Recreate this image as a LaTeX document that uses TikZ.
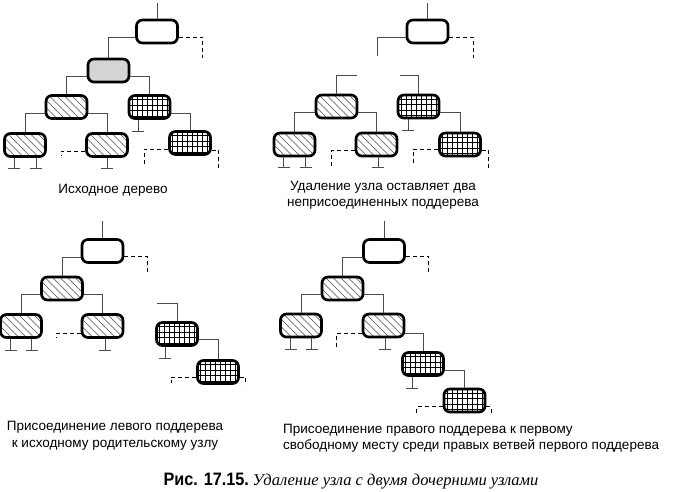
\documentclass[tikz,border=0pt]{standalone}
\usepackage{fontspec}
\setmainfont{Liberation Sans}
\newfontfamily\capserif{Liberation Serif}
\newfontfamily\capsans[FakeStretch=0.9]{Liberation Sans}
\usetikzlibrary{arrows.meta,calc}
\tikzset{
 tn/.style={draw=black, line width=2.7pt, rounded corners=6pt, minimum width=41pt, minimum height=23pt, inner sep=0pt, fill=white},
 plain/.style={tn},
 grayn/.style={tn, fill=black!17},
 hatch/.style={tn, path picture={\foreach \i in {-27,-19.5,...,45} \draw[line width=0.65pt, black!70] ([xshift=\i pt]path picture bounding box.north west) -- ++(30pt,-30pt);}},
 grid/.style={tn, path picture={\foreach \i in {3,8,...,43} \draw[line width=0.7pt] ([xshift=\i pt]path picture bounding box.north west) -- ++(0pt,-30pt); \foreach \j in {4,9.5,...,22} \draw[line width=0.7pt] ([yshift=-\j pt]path picture bounding box.north west) -- ++(50pt,0pt);}},
 conn/.style={draw=black!70, line width=0.9pt},
 dconn/.style={draw=black, line width=0.9pt, dash pattern=on 4pt off 3pt},
 nul/.style={conn, -{Bar[width=12pt]}},
 lbl/.style={font=\fontsize{13.5}{16.5}\selectfont, inner sep=0pt, align=center},
}
\begin{document}
\begin{tikzpicture}[x=1pt,y=-1pt]
\useasboundingbox (0,0) rectangle (681,492);
% ---------- Panel 1 ----------
\node[plain] (r1) at (157,31.5) {};
\node[grayn] (g1) at (108.5,70.5) {};
\node[hatch] (a1) at (66.5,107) {};
\node[grid] (b1) at (149.5,107) {};
\node[hatch] (a1l) at (25,145) {};
\node[hatch] (a1r) at (107,145) {};
\node[grid] (b1r) at (190,143) {};
\draw[conn] (r1.north) -- ++(0pt,16pt);
\draw[dconn] ([yshift=-6pt]r1.east) -- ++(24pt,0pt) -- ++(0pt,-21pt);
\draw[conn] ([yshift=-6pt]r1.west) -| (g1.north);
\draw[conn] ([yshift=-6pt]g1.west) -| (a1.north);
\draw[conn] ([yshift=-6pt]g1.east) -| (b1.north);
\draw[conn] ([yshift=-6pt]a1.west) -| (a1l.north);
\draw[conn] ([yshift=-6pt]a1.east) -| (a1r.north);
\draw[nul] ([xshift=-11.5pt]b1.south) -- ++(0pt,-12pt);
\draw[conn] ([yshift=-6pt]b1.east) -| (b1r.north);
\draw[dconn] ([yshift=-6pt]b1r.west) -- ++(-24pt,0pt) -- ++(0pt,-16pt);
\draw[dconn] ([yshift=-7pt]b1r.east) -- ++(7pt,0pt) -- ++(0pt,-20pt);
\draw[nul] ([xshift=-11pt]a1l.south) -- ++(0pt,-11pt);
\draw[nul] ([xshift=11pt]a1l.south) -- ++(0pt,-11pt);
\draw[dconn] ([yshift=-6pt]a1r.west) -- ++(-24pt,0pt) -- ++(0pt,-5pt);
\draw[nul] (a1r.south) -- ++(0pt,-11pt);
\node[lbl] (t1) at (113,190) {Исходное дерево};
% ---------- Panel 2 ----------
\node[plain] (r2) at (427.5,31.5) {};
\node[hatch] (a2) at (336.5,106.5) {};
\node[grid] (b2) at (418.5,106.5) {};
\node[hatch] (a2l) at (294.5,144.5) {};
\node[hatch] (a2r) at (376.5,144.5) {};
\node[grid] (b2r) at (460,144.5) {};
\draw[conn] (r2.north) -- ++(0pt,16pt);
\draw[dconn] ([yshift=-6pt]r2.east) -- ++(24pt,0pt) -- ++(0pt,-21pt);
\draw[conn] ([yshift=-6pt]r2.west) -- ++(-28pt,0pt) -- ++(0pt,-19pt);
\draw[conn] (a2.north) -- ++(0pt,18pt) -- ++(20pt,0pt);
\draw[conn] (b2.north) -- ++(0pt,18pt) -- ++(-19pt,0pt);
\draw[conn] ([yshift=-6pt]a2.west) -| (a2l.north);
\draw[conn] ([yshift=-6pt]a2.east) -| (a2r.north);
\draw[nul] ([xshift=-11pt]a2l.south) -- ++(0pt,-11pt);
\draw[nul] ([xshift=11pt]a2l.south) -- ++(0pt,-11pt);
\draw[dconn] ([yshift=-6pt]a2r.west) -- ++(-23pt,0pt) -- ++(0pt,-16pt);
\draw[nul] ([xshift=1.5pt]a2r.south) -- ++(0pt,-11pt);
\draw[nul] ([xshift=-10.5pt]b2.south) -- ++(0pt,-12pt);
\draw[conn] ([yshift=-6pt]b2.east) -| (b2r.north);
\draw[dconn] ([yshift=-5pt]b2r.west) -- ++(-25pt,0pt) -- ++(0pt,-16pt);
\draw[dconn] ([yshift=-6pt]b2r.east) -- ++(7pt,0pt) -- ++(0pt,-20pt);
\node[lbl] (t2) at (383,195.5) {Удаление узла оставляет два\\неприсоединенных поддерева};
% ---------- Panel 3 ----------
\node[plain] (r3) at (102.5,251) {};
\node[hatch] (a3) at (62,288.5) {};
\node[hatch] (a3l) at (21,326) {};
\node[hatch] (a3r) at (102.5,326) {};
\node[grid] (b3) at (177,334) {};
\node[grid] (b3r) at (218,372) {};
\draw[conn] (r3.north) -- ++(0pt,17pt);
\draw[dconn] ([yshift=-5pt]r3.east) -- ++(23pt,0pt) -- ++(0pt,-16pt);
\draw[conn] ([yshift=-6pt]r3.west) -| (a3.north);
\draw[conn] ([yshift=-6pt]a3.west) -| (a3l.north);
\draw[conn] ([yshift=-6pt]a3.east) -| (a3r.north);
\draw[nul] ([xshift=-10.5pt]a3l.south) -- ++(0pt,-12pt);
\draw[nul] ([xshift=10.5pt]a3l.south) -- ++(0pt,-12pt);
\draw[dconn] ([yshift=-7pt]a3r.west) -- ++(-24pt,0pt) -- ++(0pt,-5pt);
\draw[nul] ([xshift=2.5pt]a3r.south) -- ++(0pt,-12pt);
\draw[conn] (b3.north) -- ++(0pt,18pt) -- ++(-20pt,0pt);
\draw[nul] ([xshift=-12pt]b3.south) -- ++(0pt,-12pt);
\draw[conn] ([yshift=-5pt]b3.east) -| (b3r.north);
\draw[dconn] ([yshift=-5pt]b3r.west) -- ++(-25pt,0pt) -- ++(0pt,-6pt);
\draw[dconn] ([yshift=-5pt]b3r.east) -- ++(6pt,0pt) -- ++(0pt,-8pt);
\node[lbl] (t3) at (115,436) {Присоединение левого поддерева\\к исходному родительскому узлу};
% ---------- Panel 4 ----------
\node[plain] (r4) at (384,251) {};
\node[hatch] (a4) at (342.5,288.5) {};
\node[hatch] (a4l) at (301,325.5) {};
\node[hatch] (a4r) at (383.5,325.5) {};
\node[grid] (b4) at (423,364) {};
\node[grid] (b4r) at (464.5,400.5) {};
\draw[conn] (r4.north) -- ++(0pt,17pt);
\draw[dconn] ([yshift=-5pt]r4.east) -- ++(23pt,0pt) -- ++(0pt,-16pt);
\draw[conn] ([yshift=-6pt]r4.west) -| (a4.north);
\draw[conn] ([yshift=-6pt]a4.west) -| (a4l.north);
\draw[conn] ([yshift=-6pt]a4.east) -| (a4r.north);
\draw[nul] ([xshift=-10.5pt]a4l.south) -- ++(0pt,-12pt);
\draw[nul] ([xshift=10.5pt]a4l.south) -- ++(0pt,-12pt);
\draw[dconn] ([yshift=-7.5pt]a4r.west) -- ++(-25pt,0pt) -- ++(0pt,-15pt);
\draw[nul] ([xshift=1.5pt]a4r.south) -- ++(0pt,-12pt);
\draw[conn] ([yshift=-7.5pt]a4r.east) -| (b4.north);
\draw[nul] ([xshift=-11pt]b4.south) -- ++(0pt,-12pt);
\draw[conn] ([yshift=-6pt]b4.east) -| (b4r.north);
\draw[dconn] ([yshift=-6pt]b4r.west) -- ++(-26pt,0pt) -- ++(0pt,-8pt);
\draw[dconn] ([yshift=-6pt]b4r.east) -- ++(5pt,0pt) -- ++(0pt,-8pt);
\node[lbl, align=left, anchor=west] (t4) at (283,438.5) {Присоединение правого поддерева к первому\\свободному месту среди правых ветвей первого поддерева};
% ---------- Caption ----------
\node[inner sep=0pt] (cap) at (351,481) {{\capsans\bfseries\fontsize{18}{20}\selectfont Рис. 17.15.} {\capserif\itshape\fontsize{16.5}{19}\selectfont Удаление узла с двумя дочерними узлами}};
\end{tikzpicture}
\end{document}
